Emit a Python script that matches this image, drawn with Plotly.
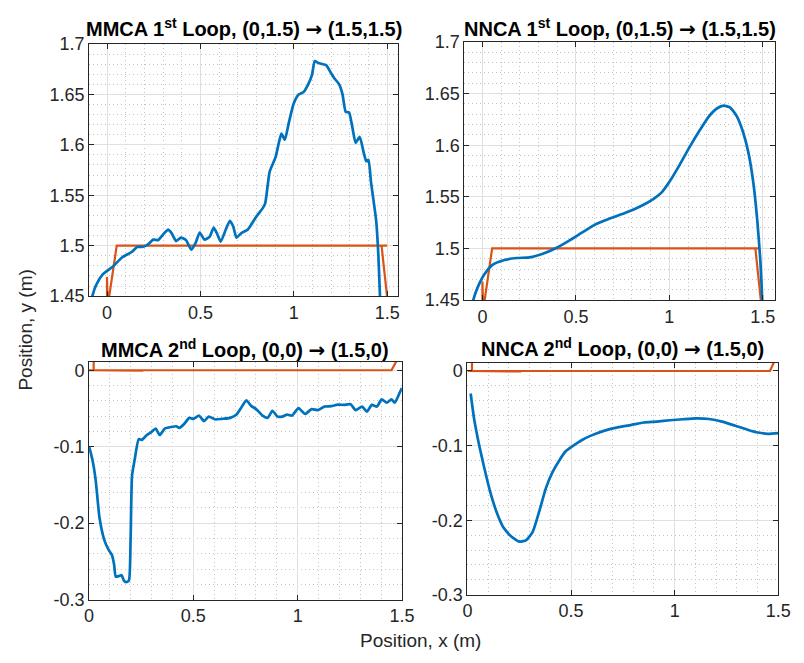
import plotly.graph_objects as go

# ---------------- data ----------------
# MMCA 1st loop (top-left)
mm1_x = [-0.09, -0.0786, -0.058, -0.023, 0.030, 0.082, 0.134, 0.161, 0.187, 0.213, 0.248, 0.274, 0.300,
         0.327, 0.344, 0.370, 0.396, 0.423, 0.452, 0.475, 0.496, 0.522, 0.550, 0.571, 0.588, 0.609,
         0.636, 0.658, 0.676, 0.693, 0.719, 0.754, 0.798, 0.833, 0.847, 0.871, 0.903, 0.920, 0.934,
         0.952, 0.973, 0.999, 1.025, 1.051, 1.077, 1.098, 1.112, 1.133, 1.173, 1.200, 1.217, 1.243,
         1.261, 1.278, 1.296, 1.313, 1.331, 1.353, 1.374, 1.388, 1.400, 1.413, 1.427, 1.441, 1.453,
         1.4615, 1.466]
mm1_y = [1.44, 1.45, 1.461, 1.4715, 1.479, 1.4885, 1.494, 1.4987, 1.4987, 1.5003, 1.506, 1.5055, 1.511,
         1.516, 1.513, 1.5045, 1.508, 1.5055, 1.496, 1.503, 1.513, 1.506, 1.509, 1.518, 1.5125, 1.504,
         1.516, 1.5247, 1.519, 1.508, 1.5125, 1.516, 1.5285, 1.537, 1.542, 1.5734, 1.588, 1.602, 1.611,
         1.605, 1.6215, 1.6407, 1.6497, 1.652, 1.660, 1.6696, 1.683, 1.681, 1.679, 1.671, 1.666, 1.660,
         1.650, 1.6327, 1.632, 1.618, 1.602, 1.608, 1.5926, 1.5837, 1.585, 1.5638, 1.5446, 1.525, 1.490,
         1.45, 1.43]

# NNCA 1st loop (top-right)
nn1_x = [-0.06, -0.049, -0.026, 0.009, 0.052, 0.113, 0.183, 0.253, 0.323, 0.392, 0.462, 0.532, 0.602,
         0.672, 0.759, 0.846, 0.916, 0.959, 1.003, 1.055, 1.108, 1.160, 1.212, 1.256, 1.291, 1.326,
         1.361, 1.395, 1.422, 1.448, 1.470, 1.486, 1.497, 1.50]
nn1_y = [1.44, 1.45, 1.462, 1.4744, 1.4838, 1.4885, 1.4907, 1.4913, 1.4948, 1.5001, 1.5073, 1.5152,
         1.523, 1.5283, 1.534, 1.5408, 1.548, 1.5543, 1.5653, 1.581, 1.5982, 1.6138, 1.628, 1.6358,
         1.6383, 1.6364, 1.628, 1.6123, 1.5935, 1.5653, 1.5277, 1.490, 1.45, 1.43]

# MMCA 2nd loop (bottom-left)
mm2_x = [0.0, 0.0156, 0.031, 0.050, 0.0735, 0.094, 0.1095, 0.120, 0.128, 0.144, 0.156, 0.167, 0.178,
         0.191, 0.199, 0.206, 0.219, 0.238, 0.253, 0.277, 0.300, 0.319, 0.339, 0.363, 0.394, 0.418,
         0.433, 0.457, 0.480, 0.5005, 0.527, 0.551, 0.574, 0.605, 0.637, 0.676, 0.707, 0.730, 0.754,
         0.777, 0.801, 0.832, 0.856, 0.879, 0.903, 0.926, 0.949, 0.973, 1.004, 1.036, 1.067, 1.098,
         1.129, 1.161, 1.192, 1.223, 1.254, 1.278, 1.309, 1.332, 1.356, 1.380, 1.403, 1.427, 1.450,
         1.466, 1.489, 1.5]
mm2_y = [-0.0996, -0.1165, -0.142, -0.193, -0.2225, -0.235, -0.2415, -0.254, -0.270, -0.269, -0.268,
         -0.275, -0.277, -0.275, -0.2225, -0.138, -0.1165, -0.090, -0.091, -0.0847, -0.0805, -0.0763,
         -0.0847, -0.0763, -0.0742, -0.0733, -0.0754, -0.070, -0.0623, -0.0636, -0.0593, -0.0665,
         -0.0606, -0.0644, -0.0636, -0.0623, -0.058, -0.0487, -0.0394, -0.0466, -0.0508, -0.0593,
         -0.0623, -0.053, -0.0606, -0.0606, -0.058, -0.0593, -0.0496, -0.0572, -0.0508, -0.0521,
         -0.0475, -0.047, -0.0449, -0.0453, -0.0445, -0.0521, -0.0475, -0.0542, -0.0453, -0.0475,
         -0.0381, -0.0424, -0.0381, -0.0424, -0.0297, -0.0233]

# NNCA 2nd loop (bottom-right)
nn2_x = [0.0158, 0.0315, 0.055, 0.079, 0.110, 0.142, 0.173, 0.213, 0.252, 0.284, 0.315, 0.347, 0.378,
         0.410, 0.441, 0.473, 0.504, 0.551, 0.599, 0.662, 0.725, 0.788, 0.851, 0.914, 0.977, 1.040,
         1.103, 1.166, 1.229, 1.292, 1.355, 1.402, 1.450, 1.5]
nn2_y = [-0.0302, -0.0626, -0.0971, -0.127, -0.162, -0.190, -0.2094, -0.2223, -0.2288, -0.2266,
         -0.2158, -0.1878, -0.1576, -0.136, -0.1209, -0.1079, -0.1014, -0.0928, -0.0863, -0.0799,
         -0.0755, -0.0725, -0.069, -0.0678, -0.066, -0.0647, -0.0635, -0.0643, -0.0678, -0.0734,
         -0.079, -0.0824, -0.0842, -0.0833]

# Reference paths
ref1_x = [0.0, 0.0, 0.004, 0.052, 1.50, 1.47, 1.505]
ref1_y = [1.44, 1.469, 1.44, 1.50, 1.50, 1.50, 1.44]
ref1b_x = [0.0, 0.0, 0.004, 0.052, 1.485, 1.46, 1.495]
ref1b_y = [1.44, 1.468, 1.44, 1.50, 1.50, 1.50, 1.44]
ref2_x = [0.022, 0.022, 0.0, 0.26, 0.0, 0.0, 1.45, 1.50]
ref2_y = [0.03, 0.0, 0.0, -0.0006, -0.0006, 0.0, 0.0, 0.025]
ref2b_x = [0.022, 0.022, 0.0, 0.26, 0.0, 0.0, 1.46, 1.50]
ref2b_y = [0.03, 0.0, 0.0, -0.0006, -0.0006, 0.0, 0.0, 0.025]

ARROW = "<span style='font-family:DejaVu Sans'>\u2192</span>"
titles = ["<b>MMCA 1<sup>st</sup> Loop, (0,1.5) " + ARROW + " (1.5,1.5)</b>",
          "<b>NNCA 1<sup>st</sup> Loop, (0,1.5) " + ARROW + " (1.5,1.5)</b>",
          "<b>MMCA 2<sup>nd</sup> Loop, (0,0) " + ARROW + " (1.5,0)</b>",
          "<b>NNCA 2<sup>nd</sup> Loop, (0,0) " + ARROW + " (1.5,0)</b>"]

xticks = [0, 0.5, 1, 1.5]
xticktext = ["0", "0.5", "1", "1.5"]
ytop_ticks = [1.45, 1.5, 1.55, 1.6, 1.65, 1.7]
ytop_text = ["1.45", "1.5", "1.55", "1.6", "1.65", "1.7"]
ybot_ticks = [-0.3, -0.2, -0.1, 0]
ybot_text = ["-0.3", "-0.2", "-0.1", "0"]

# ---------------- styling ----------------
W, H = 804, 663
BLUE = "#0072BD"
ORANGE = "#D95319"
FONT = "Liberation Sans, Arial, Helvetica, sans-serif"
AXC = "#262626"
TICK_SIZE = 18
LABEL_SIZE = 19
TITLE_SIZE = 20

def px_dom_x(a, b):
    return [a / W, b / W]

def px_dom_y(top, bottom):
    return [1 - bottom / H, 1 - top / H]

fig = go.Figure()

panels = [
    dict(x=mm1_x, y=mm1_y, rx=ref1_x, ry=ref1_y, xa="x", ya="y"),
    dict(x=nn1_x, y=nn1_y, rx=ref1b_x, ry=ref1b_y, xa="x2", ya="y2"),
    dict(x=mm2_x, y=mm2_y, rx=ref2_x, ry=ref2_y, xa="x3", ya="y3"),
    dict(x=nn2_x, y=nn2_y, rx=ref2b_x, ry=ref2b_y, xa="x4", ya="y4"),
]

for p in panels:
    fig.add_trace(go.Scatter(x=p["rx"], y=p["ry"], mode="lines", xaxis=p["xa"], yaxis=p["ya"],
                             line=dict(color=ORANGE, width=2.2), showlegend=False, hoverinfo="skip"))
    fig.add_trace(go.Scatter(x=p["x"], y=p["y"], mode="lines", xaxis=p["xa"], yaxis=p["ya"],
                             line=dict(color=BLUE, width=2.7, shape="spline", smoothing=0.5),
                             showlegend=False, hoverinfo="skip"))

MINOR = dict(showgrid=True, gridcolor="#c4c4c4", griddash="1px,3px", gridwidth=1, ticks="")

def xax(domain, rng, anchor):
    return dict(domain=domain, range=rng, anchor=anchor, tickvals=xticks, ticktext=xticktext,
                showline=True, linecolor=AXC, linewidth=1, mirror="ticks", ticks="inside",
                ticklen=5, tickcolor=AXC, showgrid=True, gridcolor="#e0e0e0", gridwidth=1,
                zeroline=False, tickfont=dict(family=FONT, size=TICK_SIZE, color=AXC),
                minor=dict(dtick=0.1, tick0=0, **MINOR))

def yax(domain, rng, anchor, tv, tt, mdt):
    return dict(domain=domain, range=rng, anchor=anchor, tickvals=tv, ticktext=tt,
                showline=True, linecolor=AXC, linewidth=1, mirror="ticks", ticks="inside",
                ticklen=5, tickcolor=AXC, showgrid=True, gridcolor="#e0e0e0", gridwidth=1,
                zeroline=False, tickfont=dict(family=FONT, size=TICK_SIZE, color=AXC),
                minor=dict(dtick=mdt, tick0=0, **MINOR))

dx1 = px_dom_x(86, 402); dy1 = px_dom_y(35, 295)
dx2 = px_dom_x(470, 788); dy2 = px_dom_y(33, 299)
dx3 = px_dom_x(86, 406); dy3 = px_dom_y(363, 608)
dx4 = px_dom_x(473, 791); dy4 = px_dom_y(364, 603)

fig.update_layout(
    width=W, height=H, margin=dict(l=0, r=0, t=0, b=0),
    paper_bgcolor="white", plot_bgcolor="white",
    xaxis=xax(dx1, [-0.096, 1.558], "y"),
    yaxis=yax(dy1, [1.45, 1.7], "x", ytop_ticks, ytop_text, 0.01),
    xaxis2=xax(dx2, [-0.096, 1.567], "y2"),
    yaxis2=yax(dy2, [1.45, 1.7], "x2", ytop_ticks, ytop_text, 0.01),
    xaxis3=xax(dx3, [0, 1.5], "y3"),
    yaxis3=yax(dy3, [-0.3, 0.0107], "x3", ybot_ticks, ybot_text, 0.02),
    xaxis4=xax(dx4, [0, 1.5], "y4"),
    yaxis4=yax(dy4, [-0.3, 0.0107], "x4", ybot_ticks, ybot_text, 0.02),
)

title_pos = [((dx1[0] + dx1[1]) / 2, 1 - 19 / H), ((dx2[0] + dx2[1]) / 2, 1 - 19 / H),
             ((dx3[0] + dx3[1]) / 2, 1 - 350 / H), ((dx4[0] + dx4[1]) / 2, 1 - 349 / H)]
anns = []
for t, (ax_, ay_) in zip(titles, title_pos):
    anns.append(dict(text=t, x=ax_, y=ay_, xref="paper", yref="paper", showarrow=False,
                     xanchor="center", yanchor="middle",
                     font=dict(family=FONT, size=TITLE_SIZE, color="black")))
anns.append(dict(text="Position, x (m)", x=425 / W, y=1 - 650 / H, xref="paper", yref="paper",
                 showarrow=False, xanchor="center", yanchor="middle",
                 font=dict(family=FONT, size=LABEL_SIZE, color=AXC)))
anns.append(dict(text="Position, y (m)", x=20 / W, y=1 - 330 / H, xref="paper", yref="paper",
                 showarrow=False, xanchor="center", yanchor="middle", textangle=-90,
                 font=dict(family=FONT, size=LABEL_SIZE, color=AXC)))
fig.update_layout(annotations=anns)

fig.write_html("out.html")
